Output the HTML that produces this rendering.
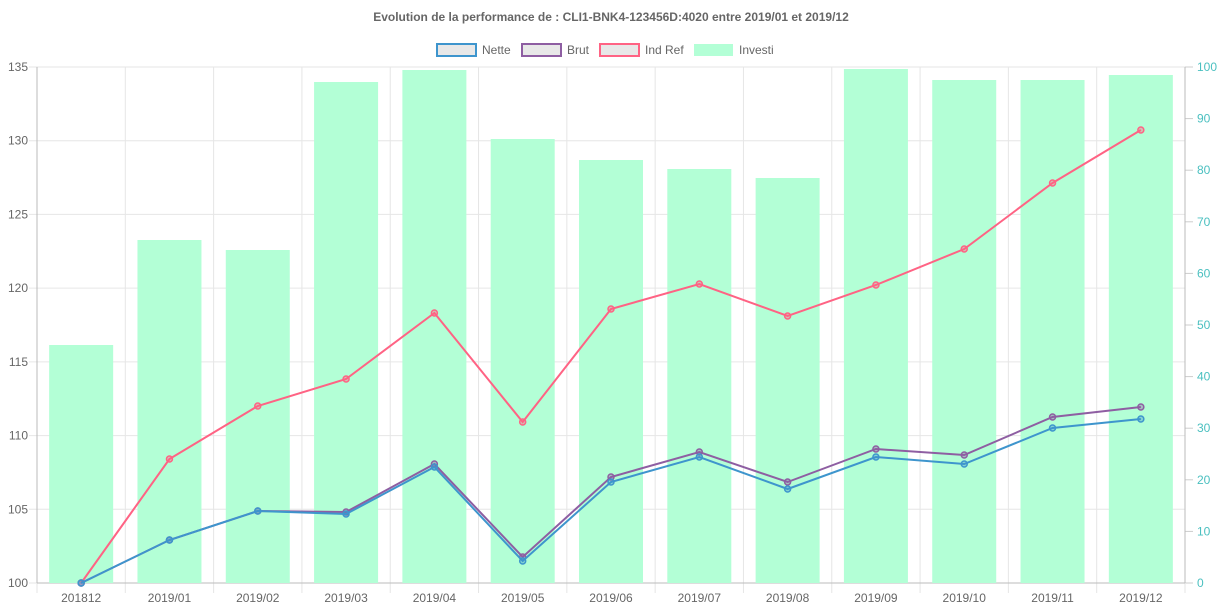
<!DOCTYPE html><html><head><style>body{margin:0;background:#fff}svg{font-family:"Liberation Sans",sans-serif}</style></head><body>
<svg width="1223" height="611" xmlns="http://www.w3.org/2000/svg">
<text x="611" y="21" text-anchor="middle" font-size="12" font-weight="bold" fill="#666">Evolution de la performance de : CLI1-BNK4-123456D:4020 entre 2019/01 et 2019/12</text>
<g font-size="12" fill="#666">
<rect x="437" y="44" width="39" height="12" fill="#e8e8e8" stroke="#3e95cd" stroke-width="2"/><text x="482" y="54">Nette</text>
<rect x="522" y="44" width="39" height="12" fill="#e8e8e8" stroke="#8e5ea2" stroke-width="2"/><text x="567" y="54">Brut</text>
<rect x="600" y="44" width="39" height="12" fill="#e8e8e8" stroke="#ff6384" stroke-width="2"/><text x="645" y="54">Ind Ref</text>
<rect x="694" y="44" width="39" height="12" fill="#b3ffd6"/><text x="739" y="54">Investi</text>
</g>
<g id="g" stroke="#e6e6e6" stroke-width="1"></g>
<g id="bars" fill="#b3ffd6"></g>
<g id="lines" fill="none" stroke-width="2"></g>
<g id="lab" font-size="12"></g>
</svg>
<script>
const L=37,R=1185,T=67,B=583,st=(R-L)/13;
const g=document.getElementById('g'),bars=document.getElementById('bars'),lines=document.getElementById('lines'),lab=document.getElementById('lab');
const ns='http://www.w3.org/2000/svg';
function el(p,t,a,txt){const e=document.createElementNS(ns,t);for(const k in a)e.setAttribute(k,a[k]);if(txt!==undefined)e.textContent=txt;p.appendChild(e);return e;}
for(let i=0;i<=7;i++){const y=B-(B-T)*i/7;el(g,'line',{x1:L-8,x2:R,y1:y,y2:y});el(lab,'text',{x:28,y:y+4,'text-anchor':'end',fill:'#666'},100+5*i);}
for(let i=0;i<=10;i++){const y=B-(B-T)*i/10;el(g,'line',{x1:R,x2:R+8,y1:y,y2:y,stroke:'#ccc'});el(lab,'text',{x:1197,y:y+4,fill:'#4bc0c0'},i*10);}
for(let i=0;i<=13;i++){const x=L+st*i;el(g,'line',{x1:x,x2:x,y1:T,y2:B+10});}
el(g,'line',{x1:L,x2:R,y1:B,y2:B,stroke:'#bbb'});el(g,'line',{x1:L,x2:L,y1:T,y2:B,stroke:'#bbb'});el(g,'line',{x1:R,x2:R,y1:T,y2:B,stroke:'#bbb'});
const labels=['201812','2019/01','2019/02','2019/03','2019/04','2019/05','2019/06','2019/07','2019/08','2019/09','2019/10','2019/11','2019/12'];
const bt=[345,240,250,82,70,139,160,169,178,69,80,80,75];
const cx=i=>L+st*(i+.5);
labels.forEach((s,i)=>{el(bars,'rect',{x:cx(i)-32,y:bt[i],width:64,height:B-bt[i]});el(lab,'text',{x:cx(i),y:602,'text-anchor':'middle',fill:'#666'},s);});
const S=[['#ff6384',[583,459,406,379,313,422,309,284,316,285,249,183,130]],['#8e5ea2',[583,540,511,512,464,557,477,452,482,449,455,417,407]],['#3e95cd',[583,540,511,514,467,561,482,457,489,457,464,428,419]]];
S.forEach(([c,ys])=>{el(lines,'polyline',{points:ys.map((y,i)=>cx(i)+','+y).join(' '),stroke:c});ys.forEach((y,i)=>el(lines,'circle',{cx:cx(i),cy:y,r:3,stroke:c,fill:c,'fill-opacity':.4,'stroke-width':1.5}));});
</script>
</body></html>
